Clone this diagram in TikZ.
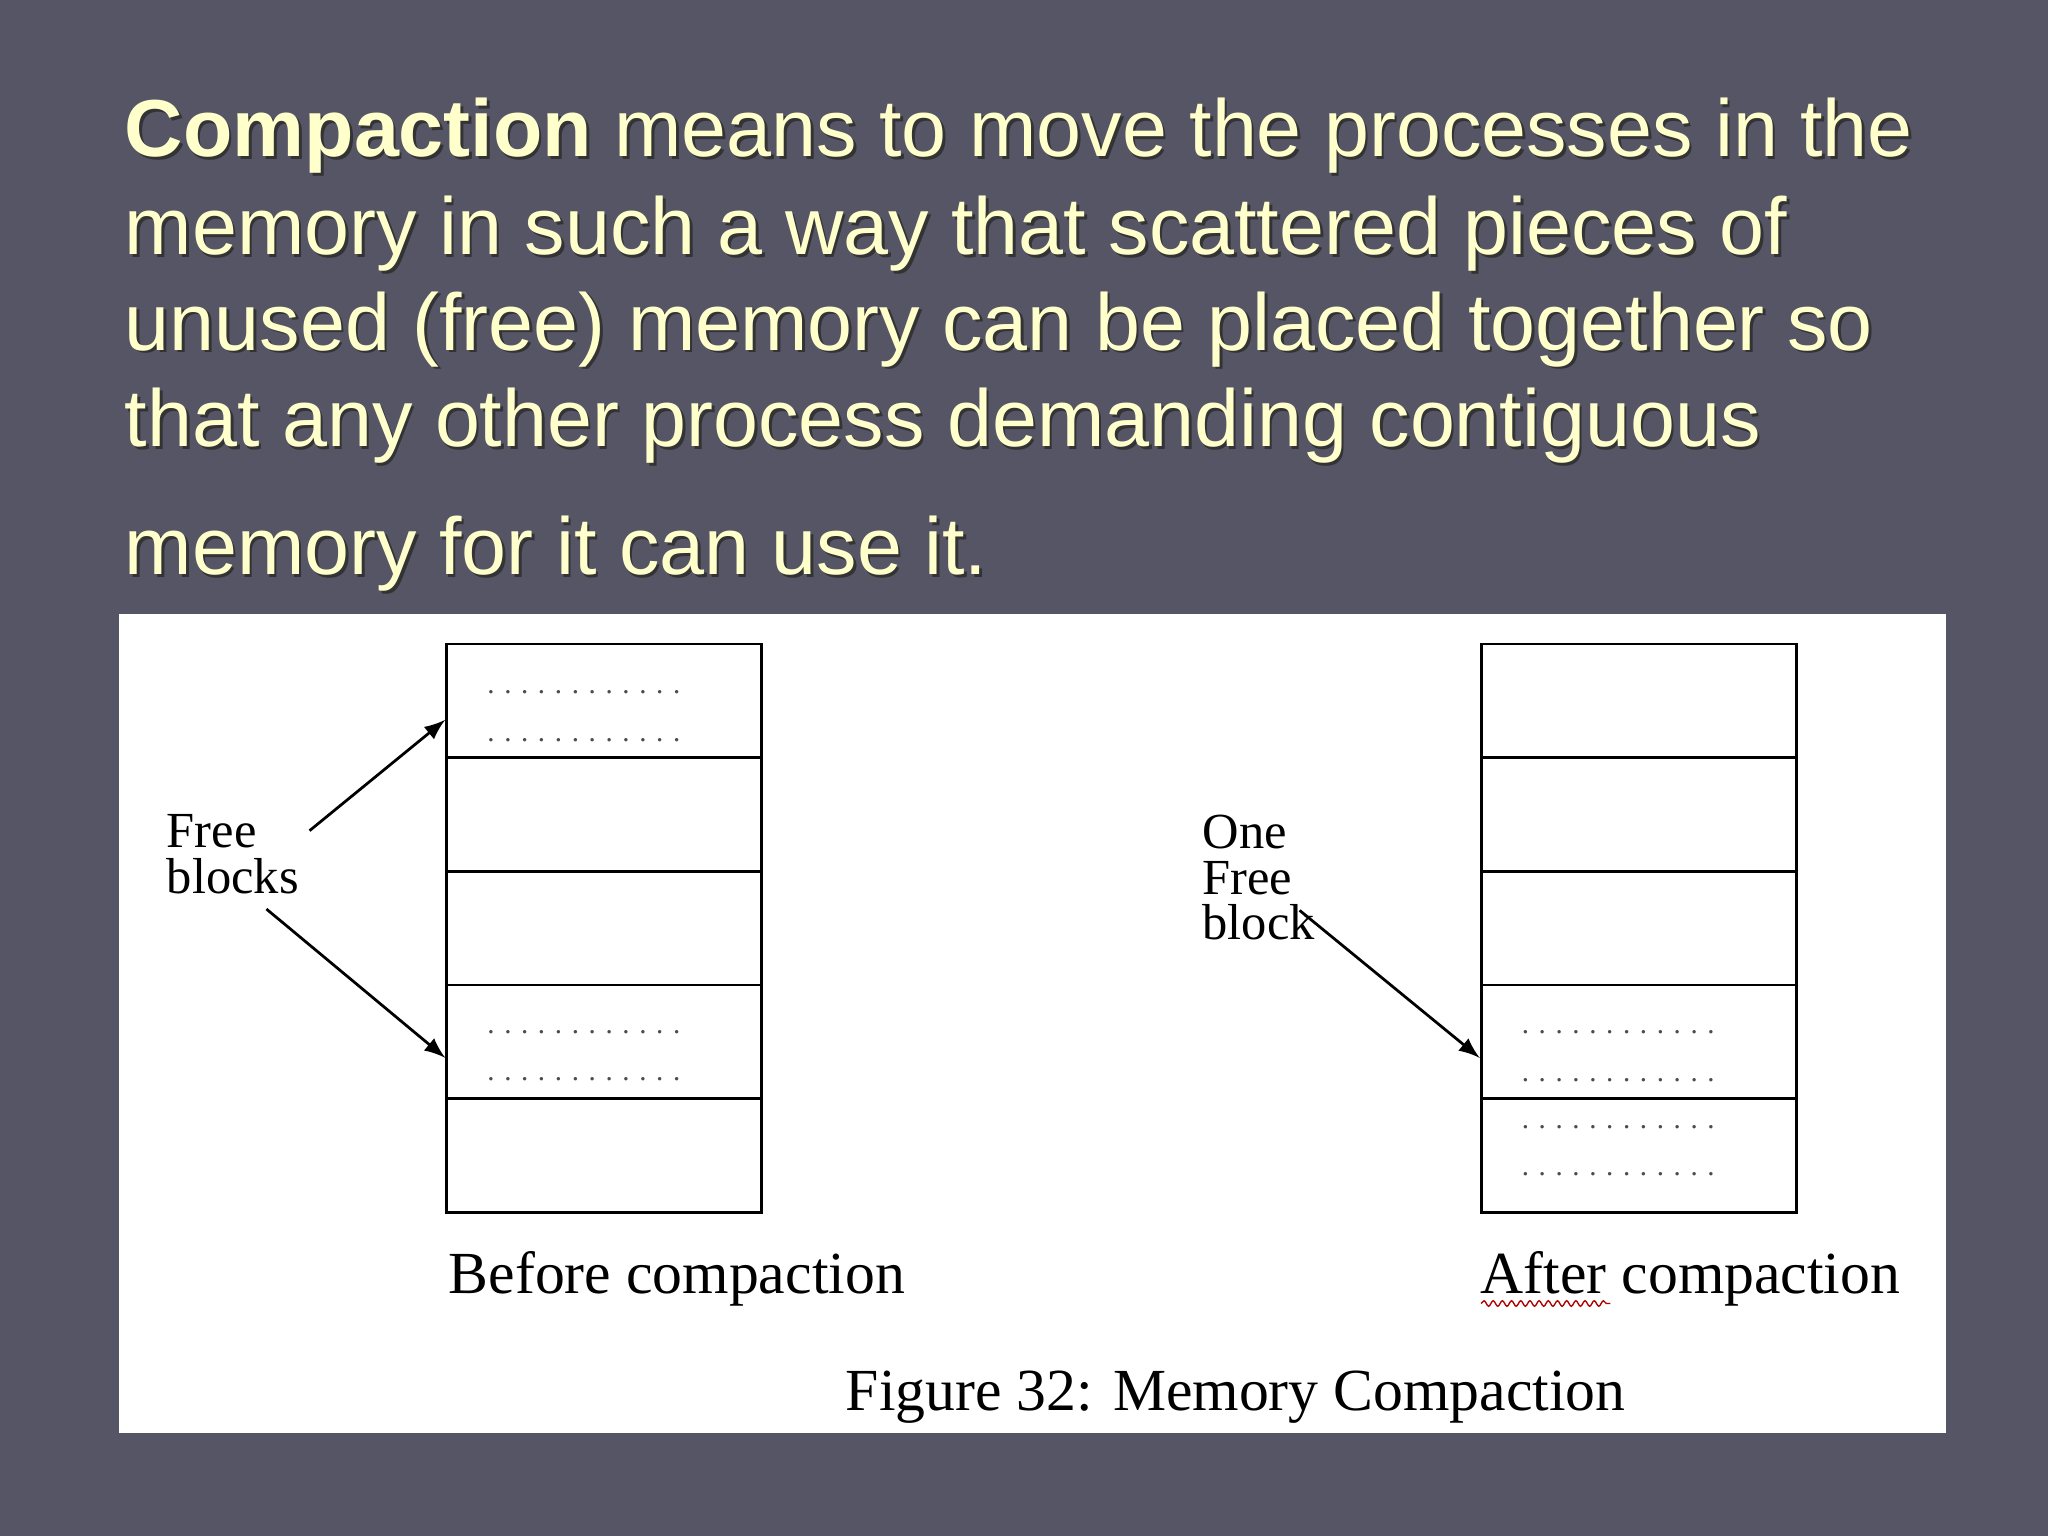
\documentclass[tikz,border=0pt]{standalone}
\usepackage{fontspec}
\usetikzlibrary{decorations.pathmorphing}
\setmainfont{Liberation Serif}
\newfontfamily\hsans{Liberation Sans}
\definecolor{bg}{HTML}{555566}
\definecolor{cream}{HTML}{FFFFCC}
\begin{document}
\begin{tikzpicture}[x=0.01cm,y=-0.01cm,
  ttl/.style={anchor=base west,inner sep=0,font=\hsans\fontsize{17.6}{20}\selectfont,text=cream},
  shd/.style={anchor=base west,inner sep=0,font=\hsans\fontsize{17.6}{20}\selectfont,text=black!80},
  cell/.style={draw,line width=0.6pt,minimum width=2.41cm,minimum height=0.87cm,inner sep=0,anchor=north west},
  dots/.style={anchor=center,inner sep=0,font=\fontsize{6.3}{7}\selectfont,text=black!70},
  lbl/.style={anchor=north west,inner sep=0,font=\fontsize{11}{12}\selectfont,align=left},
  captext/.style={anchor=base west,inner sep=0,font=\fontsize{13}{15}\selectfont},
  arr/.style={-latex,line width=0.6pt}]
\fill[bg] (0,0) rectangle (1568,1176);
\useasboundingbox (0,0) rectangle (1568,1176);
% title
\foreach \t/\y [count=\i] in {{\textbf{Compaction} means to move the processes in the}/120,
  {memory in such a way that scattered pieces of}/195,
  {unused (free) memory can be placed together so}/268,
  {that any other process demanding contiguous}/342,
  {memory for it can use it.}/440}{
  \node[shd] (s\i) at (97,\y+2) {\t};
  \node[ttl] (t\i) at (95,\y) {\t};
}
\fill[white] (91,470) rectangle (1490,1097);
% columns
\foreach \r in {0,...,4}{
  \node[cell] (L\r) at (341,492+87*\r) {};
  \node[cell] (R\r) at (1133,492+87*\r) {};
}
\foreach \yy in {530,567,790,826}{
  \node[dots] at (447,\yy) {. . . . . . . . . . . .};}
\foreach \yy in {790,827,863,899}{
  \node[dots] at (1239,\yy) {. . . . . . . . . . . .};}
\node[lbl] (fb) at (127,623) {Free\\[-2pt]blocks};
\coordinate (a1) at (237,636);
\coordinate (a2) at (204,696);
\coordinate (a3) at (995,697);
\coordinate (b1) at (341,551);
\coordinate (b2) at (341,810);
\coordinate (b3) at (1133,810);
\draw[arr] (a1) -- (b1);
\draw[arr] (a2) -- (b2);
\node[lbl] (ofb) at (920,623) {One\\[-2pt]Free\\[-2pt]block};
\draw[arr] (a3) -- (b3);
\node[captext] (bc) at (343,990) {Before compaction};
\node[captext] (ac) at (1133,990) {After compaction};
\draw[red!70!black,decorate,decoration={snake,amplitude=0.6pt,segment length=2pt},line width=0.3pt] (1134,998) -- (1233,998);
\node[captext] (fig) at (647,1080) {Figure 32: Memory Compaction};
\end{tikzpicture}
\end{document}
